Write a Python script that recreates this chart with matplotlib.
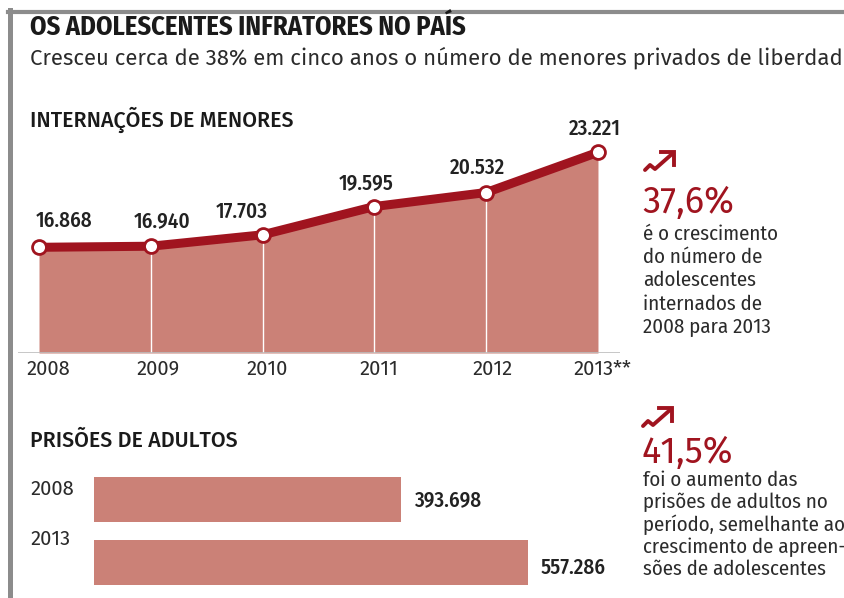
import matplotlib
matplotlib.use("Agg")
import matplotlib.pyplot as plt
from matplotlib import font_manager
from matplotlib.lines import Line2D

# dados
anos = [2008, 2009, 2010, 2011, 2012, 2013]
rotulos_anos = ["2008", "2009", "2010", "2011", "2012", "2013**"]
internacoes = [16868, 16940, 17703, 19595, 20532, 23221]
rotulos_internacoes = ["16.868", "16.940", "17.703", "19.595", "20.532", "23.221"]

anos_prisoes = ["2008", "2013"]
prisoes = [393698, 557286]
rotulos_prisoes = ["393.698", "557.286"]

W, H = 845, 598
VERMELHO = "#a0141f"
SALMAO = "#cb8177"
TEXTO = "#2b2b2b"

# fonte condensada, se houver; senão Roboto
disponiveis = {f.name for f in font_manager.fontManager.ttflist}
preferidas = ["Fira Sans Condensed", "PT Sans Narrow", "Roboto Condensed", "Liberation Sans Narrow",
              "Roboto", "DejaVu Sans"]
FONTE = next(f for f in preferidas if f in disponiveis or f == "DejaVu Sans")
FONTE_LARGA = "Fira Sans" if "Fira Sans" in disponiveis else FONTE
plt.rcParams["font.family"] = FONTE


def fx(x):
    return x / W


def fy(y):
    return 1 - y / H


fig = plt.figure(figsize=(W / 100, H / 100), dpi=100)

# moldura cinza
fig.add_artist(Line2D([fx(8), fx(845)], [fy(11.5), fy(11.5)], color="#8c8c8c", lw=3))
fig.add_artist(Line2D([fx(10.5), fx(10.5)], [fy(10), fy(598)], color="#8c8c8c", lw=3.6))

fig.text(fx(30), fy(35), "OS ADOLESCENTES INFRATORES NO PAÍS", fontsize=19, fontweight="bold",
         color="#1a1a1a", va="baseline")
fig.text(fx(30), fy(65), "Cresceu cerca de 38% em cinco anos o número de menores privados de liberdade",
         fontsize=16, color=TEXTO, va="baseline", family=FONTE_LARGA)
fig.text(fx(30), fy(127), "INTERNAÇÕES DE MENORES", fontsize=15.4, fontweight="medium", color="#1a1a1a",
         va="baseline", family=FONTE_LARGA)
fig.text(fx(30), fy(447), "PRISÕES DE ADULTOS", fontsize=15.4, fontweight="medium", color="#1a1a1a",
         va="baseline", family=FONTE_LARGA)

# --- área: internações de menores ---
ax = fig.add_axes([fx(18), fy(353), (620 - 18) / W, (353 - 100) / H])
ax.set_xlim(2007.812, 2013.197)
ax.set_ylim(9800, 26718)
ax.fill_between(anos, internacoes, 9800, color=SALMAO, lw=0)
ax.vlines(anos[1:-1], 9800, internacoes[1:-1], color="white", lw=1)
ax.axhline(9800, color="#bdbdbd", lw=1.2)
ax.plot(anos, internacoes, color=VERMELHO, lw=6.5, solid_joinstyle="round", zorder=3)
ax.plot(anos, internacoes, "o", ms=10, mfc="white", mec=VERMELHO, mew=2, zorder=4, clip_on=False)

desloc_rotulos = [(25, 26), (11, 25), (-21, 23), (-8, 24), (-9, 25), (-3, 23)]
for a, v, r, d in zip(anos, internacoes, rotulos_internacoes, desloc_rotulos):
    ax.annotate(r, (a, v), xytext=d, textcoords="offset pixels", ha="center", va="center",
                fontsize=15.2, fontweight="medium", color="#222222")
desloc_anos = [9, 7, 5, 5, 6, 4]
for a, r, d in zip(anos, rotulos_anos, desloc_anos):
    ax.annotate(r, (a, 9800), xytext=(d, -16), textcoords="offset pixels", ha="center", va="center",
                fontsize=14.5, color=TEXTO, annotation_clip=False, family=FONTE_LARGA)
ax.axis("off")

# --- barras: prisões de adultos ---
bx = fig.add_axes([fx(94), fy(594), (640 - 94) / W, (594 - 468) / H])
bx.set_xlim(0, 701100)
bx.set_ylim(1.5, -0.5)
pos = range(len(prisoes))
bx.barh(pos, prisoes, height=0.714, color=SALMAO)
for i, (v, r) in enumerate(zip(prisoes, rotulos_prisoes)):
    bx.annotate(r, (v, i), xytext=(13, [0, -5][i]), textcoords="offset pixels", ha="left", va="center",
                fontsize=15.2, fontweight="medium", color="#222222", annotation_clip=False)
for i, r in enumerate(anos_prisoes):
    bx.annotate(r, (0, i), xytext=(-64, [10, 23][i]), textcoords="offset pixels", ha="left",
                va="center", fontsize=14.5, color=TEXTO, annotation_clip=False, family=FONTE_LARGA)
bx.axis("off")


# ícone de seta ondulada
def icone(x0, y0):
    xs = [0, 5, 10, 27]
    ys = [19, 14, 18, 3]
    fig.add_artist(Line2D([fx(x0 + x) for x in xs], [fy(y0 + y) for y in ys], color=VERMELHO, lw=2.8,
                          solid_joinstyle="round", solid_capstyle="round"))
    fig.add_artist(Line2D([fx(x0 + 16), fx(x0 + 29), fx(x0 + 29)], [fy(y0 + 1), fy(y0 + 1), fy(y0 + 14)],
                          color=VERMELHO, lw=2.8, solid_joinstyle="miter"))


icone(645, 151)
icone(643, 407)

fig.text(fx(642), fy(213), "37,6%", fontsize=26, color=VERMELHO, va="baseline", family=FONTE_LARGA)
linhas1 = ["é o crescimento", "do número de", "adolescentes", "internados de", "2008 para 2013"]
for k, t in enumerate(linhas1):
    fig.text(fx(643), fy(240 + 23.25 * k), t, fontsize=15, color=TEXTO, va="baseline")

fig.text(fx(642), fy(463), "41,5%", fontsize=26, color=VERMELHO, va="baseline", family=FONTE_LARGA)
linhas2 = ["foi o aumento das", "prisões de adultos no", "período, semelhante ao",
           "crescimento de apreen-", "sões de adolescentes"]
for k, t in enumerate(linhas2):
    fig.text(fx(643), fy(486 + 22.25 * k), t, fontsize=15, color=TEXTO, va="baseline")

fig.savefig("out.png", dpi=100)
